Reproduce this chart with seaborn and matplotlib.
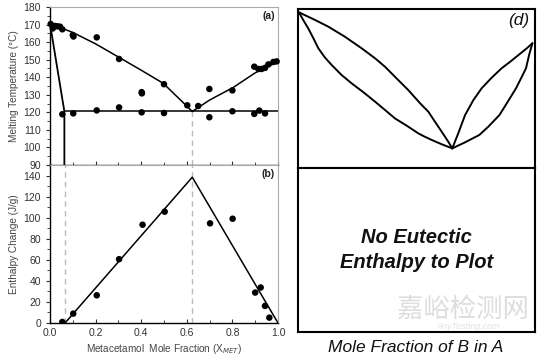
import numpy as np
import pandas as pd
import seaborn as sns
import matplotlib.pyplot as plt
from matplotlib.ticker import MultipleLocator

sns.set_style("white")
plt.rcParams['font.family'] = ['Liberation Sans', 'DejaVu Sans']

# --- data: panel (a) melting points ---
liq_x = [0.003, 0.012, 0.022, 0.032, 0.044, 0.054, 0.10, 0.103, 0.205, 0.303, 0.402, 0.403,
         0.50, 0.602, 0.65, 0.699, 0.80, 0.896, 0.914, 0.928, 0.943, 0.958, 0.98, 0.994]
liq_y = [170.3, 167.8, 169.2, 169.0, 168.8, 167.3, 164.0, 163.2, 162.7, 150.4, 131.5, 130.8,
         136.0, 124.0, 123.6, 133.3, 132.5, 146.0, 144.7, 144.7, 145.3, 147.3, 148.7, 149.0]
eut_x = [0.054, 0.102, 0.205, 0.303, 0.402, 0.50, 0.699, 0.80, 0.896, 0.918, 0.943]
eut_y = [118.9, 119.4, 121.1, 122.8, 120.0, 119.6, 117.2, 120.6, 119.1, 121.0, 119.4]

# fitted lines in (a)
fit_left_x = [0.0, 0.10, 0.20, 0.303, 0.40, 0.497, 0.624]
fit_left_y = [170.5, 165.5, 159.0, 151.3, 144.0, 136.5, 120.5]
fit_right_x = [0.624, 0.70, 0.804, 0.90, 1.0]
fit_right_y = [120.5, 127.0, 134.2, 142.5, 148.9]
solidus_x = [0.0, 0.063, 0.063]
solidus_y = [170.5, 120.5, 90.0]
eutectic_T = 120.5
x_eut_solid = 0.063
x_eutectic = 0.624

# --- data: panel (b) enthalpy ---
dh_x = [0.054, 0.102, 0.205, 0.303, 0.406, 0.503, 0.702, 0.801, 0.90, 0.924, 0.943, 0.962]
dh_y = [1.0, 8.9, 26.3, 60.6, 93.3, 105.7, 94.6, 99.0, 28.9, 33.7, 16.2, 5.1]
tam_x = [0.066, 0.624, 1.0]
tam_y = [0.0, 138.4, 0.0]

# --- data: panel (d) schematic curves (axes fraction) ---
d_up_left_x = [0.004, 0.072, 0.128, 0.198, 0.269, 0.325, 0.367, 0.409, 0.465, 0.515,
               0.550, 0.578, 0.606, 0.634, 0.651]
d_up_left_y = [0.976, 0.928, 0.886, 0.823, 0.750, 0.688, 0.635, 0.572, 0.489, 0.406,
               0.353, 0.290, 0.228, 0.165, 0.123]
d_lo_left_x = [0.004, 0.022, 0.043, 0.065, 0.086, 0.114, 0.142, 0.184, 0.226, 0.276,
               0.325, 0.367, 0.409, 0.459, 0.508, 0.535, 0.564, 0.606, 0.651]
d_lo_left_y = [0.976, 0.928, 0.876, 0.813, 0.750, 0.692, 0.646, 0.583, 0.531, 0.475,
               0.416, 0.364, 0.311, 0.265, 0.217, 0.196, 0.176, 0.149, 0.123]
d_up_right_x = [0.651, 0.676, 0.705, 0.740, 0.775, 0.817, 0.859, 0.895, 0.930, 0.965, 0.989]
d_up_right_y = [0.123, 0.217, 0.332, 0.426, 0.500, 0.566, 0.625, 0.666, 0.708, 0.750, 0.782]
d_lo_right_x = [0.651, 0.705, 0.765, 0.803, 0.850, 0.881, 0.920, 0.941, 0.962, 0.975, 0.989]
d_lo_right_y = [0.123, 0.161, 0.207, 0.259, 0.332, 0.406, 0.500, 0.562, 0.625, 0.708, 0.782]

fig = plt.figure(figsize=(5.45, 3.59), dpi=100)
W, H = 545, 359
def box(x0, y0, x1, y1):
    return [x0 / W, 1 - y1 / H, (x1 - x0) / W, (y1 - y0) / H]

ax_a = fig.add_axes(box(50, 7, 278, 165))
ax_b = fig.add_axes(box(50, 165, 278, 323))
ax_d = fig.add_axes(box(298, 8.5, 535, 168))
ax_e = fig.add_axes(box(298, 168, 535, 332))

tick_col = '#333333'
for ax in (ax_a, ax_b):
    ax.set_xlim(0, 1.0)
    for s in ('left', 'bottom'):
        ax.spines[s].set_color('black')
        ax.spines[s].set_linewidth(1.0)
    for s in ('top', 'right'):
        ax.spines[s].set_color('#aaaaaa')
        ax.spines[s].set_linewidth(0.8)
    ax.xaxis.set_major_locator(MultipleLocator(0.2))
    ax.xaxis.set_minor_locator(MultipleLocator(0.1))
    ax.tick_params(axis='x', direction='in', length=3, width=0.8, labelsize=7.5,
                   colors=tick_col, bottom=True)
    ax.tick_params(axis='x', which='minor', direction='in', length=2, bottom=True)
    ax.tick_params(axis='y', direction='out', length=3, width=0.8, labelsize=7.5,
                   colors=tick_col, left=True)
    ax.tick_params(axis='y', which='minor', direction='out', length=2, left=True)

# panel (a)
ax_a.set_ylim(90, 180)
ax_a.yaxis.set_major_locator(MultipleLocator(10))
ax_a.yaxis.set_minor_locator(MultipleLocator(5))
ax_a.vlines(x_eutectic, 90, eutectic_T, colors='#bbbbbb', linestyles=(0, (4, 3)), lw=1.0)
sns.lineplot(x=fit_left_x, y=fit_left_y, sort=False, estimator=None, color='black', lw=1.1, ax=ax_a)
sns.lineplot(x=fit_right_x, y=fit_right_y, sort=False, estimator=None, color='black', lw=1.1, ax=ax_a)
sns.lineplot(x=solidus_x, y=solidus_y, sort=False, estimator=None, color='black', lw=1.3, ax=ax_a)
ax_a.hlines(eutectic_T, x_eut_solid, 1.0, colors='black', lw=1.1)
sns.scatterplot(x=liq_x, y=liq_y, color='black', s=22, edgecolor='none', ax=ax_a, clip_on=False, zorder=5)
sns.scatterplot(x=eut_x, y=eut_y, color='black', s=22, edgecolor='none', ax=ax_a, zorder=5)
ax_a.set_xticklabels([])
ax_a.set_ylabel('Melting Temperature (°C)', fontsize=7.2, color='#444444', labelpad=3)
ax_a.text(0.985, 0.975, '(a)', transform=ax_a.transAxes, ha='right', va='top',
          fontsize=7.5, fontweight='bold', color='#222222')

# panel (b)
ax_b.set_ylim(0, 150)
ax_b.yaxis.set_major_locator(MultipleLocator(20))
ax_b.yaxis.set_minor_locator(MultipleLocator(10))
ax_b.vlines(x_eut_solid + 0.003, 0, 150, colors='#bbbbbb', linestyles=(0, (4, 3)), lw=1.0)
ax_b.vlines(x_eutectic, 0, 150, colors='#bbbbbb', linestyles=(0, (4, 3)), lw=1.0)
sns.lineplot(x=tam_x, y=tam_y, sort=False, estimator=None, color='black', lw=1.1, ax=ax_b)
sns.scatterplot(x=dh_x, y=dh_y, color='black', s=22, edgecolor='none', ax=ax_b, zorder=5)
ax_b.set_xticks([0.0, 0.2, 0.4, 0.6, 0.8, 1.0])
ax_b.set_xticklabels(['0.0', '0.2', '0.4', '0.6', '0.8', '1.0'])
ax_b.set_ylabel('Enthalpy Change (J/g)', fontsize=7.2, color='#444444', labelpad=3)
ax_b.set_xlabel('Metacetamol  Mole Fraction (X$_{MET}$)', fontsize=7.2, color='#444444', labelpad=3)
ax_b.text(0.985, 0.975, '(b)', transform=ax_b.transAxes, ha='right', va='top',
          fontsize=7.5, fontweight='bold', color='#222222')

# panel (d) schematic
for ax in (ax_d, ax_e):
    ax.set_xlim(0, 1)
    ax.set_ylim(0, 1)
    ax.set_xticks([])
    ax.set_yticks([])
    for s in ax.spines.values():
        s.set_color('black')
        s.set_linewidth(1.5)
        s.set_visible(True)

for cx, cy in [(d_up_left_x, d_up_left_y), (d_lo_left_x, d_lo_left_y),
               (d_up_right_x, d_up_right_y), (d_lo_right_x, d_lo_right_y)]:
    sns.lineplot(x=cx, y=cy, sort=False, estimator=None, color='black', lw=1.4,
                 solid_joinstyle='round', solid_capstyle='round', ax=ax_d)
ax_d.text(0.975, 0.97, '(d)', transform=ax_d.transAxes, ha='right', va='top',
          fontsize=12.5, style='italic', color='#111111')

ax_e.text(0.5, 0.5, 'No Eutectic\nEnthalpy to Plot', transform=ax_e.transAxes,
          ha='center', va='center', fontsize=14.5, fontweight='bold', style='italic',
          linespacing=1.35, color='#111111')

# watermark
fig.text(463 / W, 1 - 309 / H, '嘉峪检测网', ha='center', va='center', fontsize=19,
         color='#dddddd', family=['Noto Sans CJK SC', 'DejaVu Sans'], zorder=0)
fig.text(468 / W, 1 - 326.5 / H, 'AnyTesting.com', ha='center', va='center', fontsize=6.5,
         color='#e2e2e2', style='italic', zorder=0)

fig.text(416 / W, 1 - 347 / H, 'Mole Fraction of B in A', ha='center', va='center',
         fontsize=12.5, style='italic', color='#111111')

fig.savefig('out.png', dpi=100)
